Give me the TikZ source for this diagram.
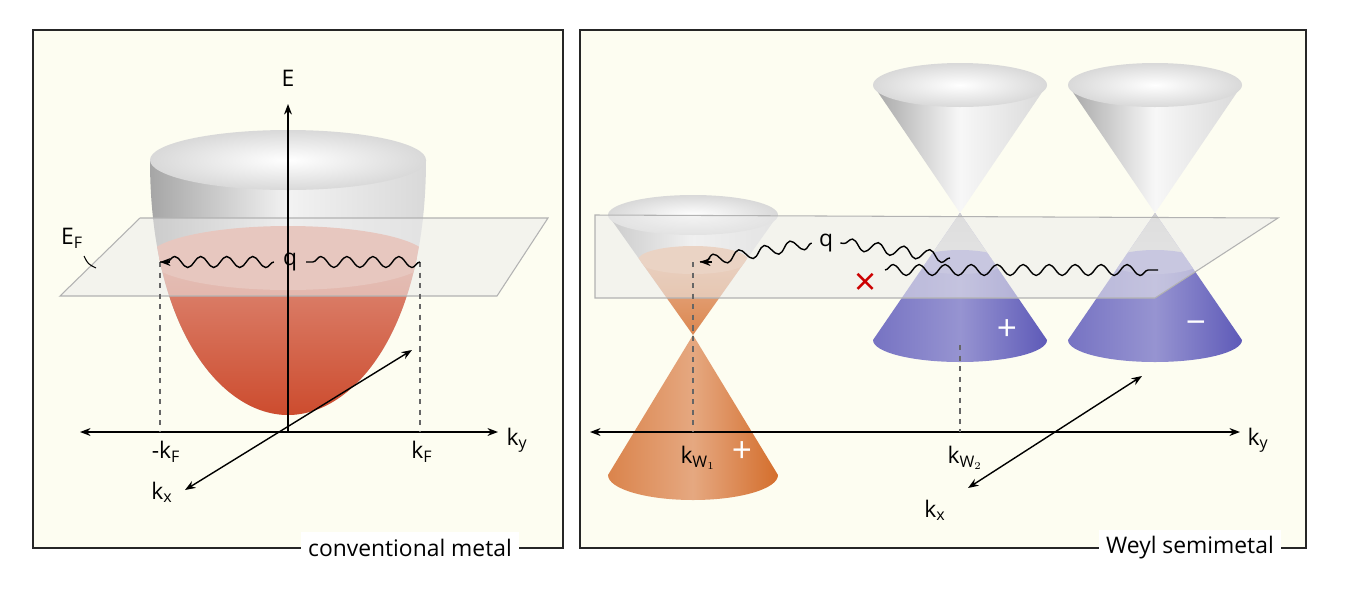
\documentclass[tikz,border=0pt]{standalone}
\usepackage{fontspec}
\setmainfont{Open Sans}
\usetikzlibrary{decorations.pathmorphing,arrows.meta}
\definecolor{cream}{HTML}{FDFDF1}
\definecolor{metal}{HTML}{CC4A2C}
\definecolor{weylor}{HTML}{D46E2C}
\definecolor{weylbl}{HTML}{5E5AB8}
\tikzstyle{panel}=[draw=black!85,line width=1pt,fill=cream]
\tikzstyle{axis}=[draw,line width=0.8pt,{Stealth[length=6pt]}-{Stealth[length=6pt]}]
\tikzstyle{upaxis}=[draw,line width=0.8pt,-{Stealth[length=6pt]}]
\tikzstyle{guide}=[draw,dashed,black!60,line width=0.6pt]
\tikzstyle{plane}=[fill=black!8,fill opacity=0.55,draw=black!30,line width=0.6pt]
\tikzstyle{wave}=[draw,line width=0.8pt,decorate,decoration={snake,amplitude=0.11cm,segment length=0.52cm}]
\tikzstyle{lbl}=[font=\fontsize{13}{15}\selectfont,inner sep=1pt]
\tikzstyle{tag}=[lbl,fill=white,inner sep=4pt]
\begin{document}
\begin{tikzpicture}[x=0.02cm,y=-0.02cm]
    \useasboundingbox (0,0) rectangle (1350,596);
    % panels
    \path[panel] (33,30) rectangle (563,548);
    \path[panel] (580,30) rectangle (1306,548);
    \node[tag] (cm) at (410,548) {conventional metal};
    \node[tag] (ws) at (1190,548) {Weyl semimetal};
    % paraboloid
    \shade[left color=black!35,right color=black!15,middle color=black!5]
        (150,160) .. controls (150,330) and (222,415) .. (288,415)
        .. controls (354,415) and (426,330) .. (426,160) -- cycle;
    \begin{scope}
        \clip (150,160) .. controls (150,330) and (222,415) .. (288,415)
            .. controls (354,415) and (426,330) .. (426,160) -- cycle;
        \shade[top color=metal!65,bottom color=metal] (140,258) rectangle (440,420);
        \fill[metal!55] (288,258) ellipse [x radius=140,y radius=32];
    \end{scope}
    \shade[inner color=white,outer color=black!15] (288,160) ellipse [x radius=138,y radius=30];
    \path[plane] (60,296) -- (140,218) -- (548,218) -- (497,296) -- cycle;
    % axes
    \coordinate (eb) at (288,432);
    \coordinate (et) at (288,104);
    \coordinate (yl) at (80,432);
    \coordinate (yr) at (498,432);
    \coordinate (xa) at (412,350);
    \coordinate (xb) at (185,490);
    \path[upaxis] (eb) -- (et);
    \path[axis] (yl) -- (yr);
    \path[axis] (xb) -- (xa);
    \node[lbl] (E) at (288,78) {E};
    \node[lbl] (ky1) at (517,440) {k$_\mathrm{y}$};
    \node[lbl] (kx1) at (162,492) {k$_\mathrm{x}$};
    \node[lbl] (EF) at (72,238) {E$_\mathrm{F}$};
    \draw[line width=0.6pt] (84,256) .. controls (88,264) .. (96,268);
    \coordinate (fl) at (160,262);
    \coordinate (fr) at (420,262);
    \path[guide] (fl) -- (160,432);
    \path[guide] (fr) -- (420,432);
    \node[lbl] (mkf) at (166,452) {-k$_\mathrm{F}$};
    \node[lbl] (kf) at (422,452) {k$_\mathrm{F}$};
    \node[lbl,inner sep=5pt] (q1) at (290,262) {q};
    \path[wave] (fr) -- (q1.east);
    \path[wave] (q1.west) -- (fl);
    \draw[-{Stealth[length=6pt]},line width=0.8pt] (170,262) -- (fl);
    % orange Weyl node
    \shade[left color=weylor!85,right color=weylor,middle color=weylor!60]
        (608,475) -- (693,335) -- (778,475) arc[start angle=0,end angle=-180,x radius=85,y radius=-25];
    \shade[left color=black!35,right color=black!15,middle color=black!3]
        (608,215) -- (693,335) -- (778,215) -- cycle;
    \begin{scope}
        \clip (608,215) -- (693,335) -- (778,215) -- cycle;
        \shade[top color=weylor!55,bottom color=weylor!85] (600,260) rectangle (790,340);
        \fill[weylor!50] (693,260) ellipse [x radius=55,y radius=14];
    \end{scope}
    \shade[inner color=white,outer color=black!15] (693,215) ellipse [x radius=85,y radius=20];
    % blue Weyl nodes
    \foreach \cx/\name in {960/wb,1155/wc}{
        \shade[left color=weylbl!85,right color=weylbl,middle color=weylbl!65]
            (\cx-87,340) -- (\cx,213) -- (\cx+87,340) arc[start angle=0,end angle=-180,x radius=87,y radius=-22];
        \shade[left color=black!35,right color=black!15,middle color=black!3]
            (\cx-87,85) -- (\cx,213) -- (\cx+87,85) -- cycle;
        \begin{scope}
            \clip (\cx-87,340) -- (\cx,213) -- (\cx+87,340) -- cycle;
            \shade[top color=black!20,bottom color=black!15] (\cx-90,200) rectangle (\cx+90,262);
            \fill[weylbl!60] (\cx,262) ellipse [x radius=45,y radius=12];
        \end{scope}
        \shade[inner color=white,outer color=black!15] (\cx,85) ellipse [x radius=87,y radius=22];
    }
    \path[plane] (595,215) -- (1278,218) -- (1155,298) -- (595,298) -- cycle;
    % axes
    \coordinate (wl) at (590,432);
    \coordinate (wr) at (1240,432);
    \coordinate (wxa) at (1142,376);
    \coordinate (wxb) at (968,488);
    \path[axis] (wl) -- (wr);
    \path[axis] (wxb) -- (wxa);
    \node[lbl] (ky2) at (1258,440) {k$_\mathrm{y}$};
    \node[lbl] (kx2) at (935,510) {k$_\mathrm{x}$};
    \coordinate (w1) at (693,262);
    \coordinate (w2) at (960,345);
    \path[guide] (w1) -- (693,432);
    \path[guide] (w2) -- (960,432);
    \node[lbl] (kw1) at (698,458) {k$_{\mathrm{W}_1}$};
    \node[lbl] (kw2) at (965,458) {k$_{\mathrm{W}_2}$};
    \node[lbl,text=white,font=\fontsize{20}{22}\selectfont] (p1) at (742,452) {+};
    \node[lbl,text=white,font=\fontsize{20}{22}\selectfont] (p2) at (1007,330) {+};
    \node[lbl,text=white,font=\fontsize{20}{22}\selectfont] (m3) at (1196,328) {−};
    % scattering
    \node[lbl,inner sep=4pt] (q2) at (826,243) {q};
    \coordinate (qs) at (950,258);
    \coordinate (qe) at (700,262);
    \path[wave] (qs) -- (q2.east);
    \path[wave] (q2.west) -- (qe);
    \draw[-{Stealth[length=6pt]},line width=0.8pt] (712,262) -- (qe);
    \coordinate (ns) at (885,270);
    \coordinate (ne) at (1158,270);
    \path[wave] (ns) -- (ne);
    \node[lbl,text=red!80!black,font=\fontsize{22}{24}\selectfont] (no) at (866,284) {×};
\end{tikzpicture}
\end{document}
